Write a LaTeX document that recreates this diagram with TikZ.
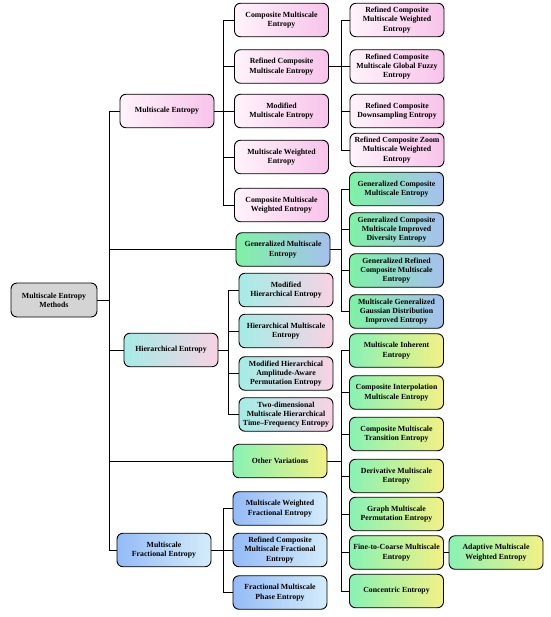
\documentclass[tikz,border=0pt]{standalone}
\usepackage{fontspec}
\setmainfont{Liberation Serif}
\definecolor{pinkL}{HTML}{FFF3FB}
\definecolor{pinkR}{HTML}{F7C3EA}
\definecolor{genL}{HTML}{7EF2A6}
\definecolor{genR}{HTML}{A6C0EE}
\definecolor{hierL}{HTML}{A4ECE6}
\definecolor{hierR}{HTML}{F9D2E4}
\definecolor{othL}{HTML}{88F2B4}
\definecolor{othR}{HTML}{F3F184}
\definecolor{fracL}{HTML}{94BBF7}
\definecolor{fracR}{HTML}{D4ECFA}
\definecolor{rootC}{HTML}{D4D4D4}
\tikzset{
  box/.style={draw=black, line width=0.9pt, rounded corners=6pt, minimum width=94pt,
    minimum height=33.5pt, inner sep=1pt, align=center,
    font=\fontsize{7.8}{9.3}\selectfont\bfseries, text=black},
  pinkbox/.style={box, left color=pinkL, right color=pinkR},
  genbox/.style={box, left color=genL, right color=genR},
  hierbox/.style={box, left color=hierL, right color=hierR},
  othbox/.style={box, left color=othL, right color=othR},
  fracbox/.style={box, left color=fracL, right color=fracR},
  rootbox/.style={box, fill=rootC, minimum width=86pt, minimum height=34pt},
  conn/.style={draw=black, line width=0.8pt}
}
\begin{document}
\begin{tikzpicture}[x=1pt,y=-1pt]
\path[use as bounding box] (0,0) rectangle (550,617);
% root
\node[rootbox] (root) at (54,300) {Multiscale Entropy\\Methods};
% level 1
\node[pinkbox] (ms) at (167,111) {Multiscale Entropy};
\node[genbox] (gms) at (283,249.5) {Generalized Multiscale\\Entropy};
\node[hierbox] (he) at (171,350) {Hierarchical Entropy};
\node[othbox] (ov) at (280,461) {Other Variations};
\node[fracbox] (mfe) at (164,550) {Multiscale\\Fractional Entropy};
% MS children
\node[pinkbox] (cmse) at (281.5,20) {Composite Multiscale\\Entropy};
\node[pinkbox] (rcmse) at (281.5,66.5) {Refined Composite\\Multiscale Entropy};
\node[pinkbox] (mmse) at (281.5,111) {Modified\\Multiscale Entropy};
\node[pinkbox] (mwe) at (281.5,157) {Multiscale Weighted\\Entropy};
\node[pinkbox] (cmwe) at (281.5,205) {Composite Multiscale\\Weighted Entropy};
% RCMSE children
\node[pinkbox] (r1) at (397,20) {Refined Composite\\Multiscale Weighted\\Entropy};
\node[pinkbox] (r2) at (397,66.5) {Refined Composite\\Multiscale Global Fuzzy\\Entropy};
\node[pinkbox] (r3) at (397,111) {Refined Composite\\Downsampling Entropy};
\node[pinkbox] (r4) at (397,150) {Refined Composite Zoom\\Multiscale Weighted\\Entropy};
% GMS children
\node[genbox] (g1) at (396.5,189) {Generalized Composite\\Multiscale Entropy};
\node[genbox] (g2) at (396.5,229.5) {Generalized Composite\\Multiscale Improved\\Diversity Entropy};
\node[genbox] (g3) at (396.5,270.5) {Generalized Refined\\Composite Multiscale\\Entropy};
\node[genbox] (g4) at (396.5,311.5) {Multiscale Generalized\\Gaussian Distribution\\Improved Entropy};
% HE children
\node[hierbox] (h1) at (286,290) {Modified\\Hierarchical Entropy};
\node[hierbox] (h2) at (286,331) {Hierarchical Multiscale\\Entropy};
\node[hierbox] (h3) at (286,373.5) {Modified Hierarchical\\Amplitude-Aware\\Permutation Entropy};
\node[hierbox] (h4) at (286,414.5) {Two-dimensional\\Multiscale Hierarchical\\Time--Frequency Entropy};
% OV children
\node[othbox] (o1) at (396.5,350.5) {Multiscale Inherent\\Entropy};
\node[othbox] (o2) at (396.5,392.5) {Composite Interpolation\\Multiscale Entropy};
\node[othbox] (o3) at (396.5,434) {Composite Multiscale\\Transition Entropy};
\node[othbox] (o4) at (396.5,476) {Derivative Multiscale\\Entropy};
\node[othbox] (o5) at (396.5,514) {Graph Multiscale\\Permutation Entropy};
\node[othbox] (o6) at (396.5,552.5) {Fine-to-Coarse Multiscale\\Entropy};
\node[othbox] (o7) at (396.5,591) {Concentric Entropy};
\node[othbox] (o8) at (496,552.5) {Adaptive Multiscale\\Weighted Entropy};
% MFE children
\node[fracbox] (f1) at (280,508.5) {Multiscale Weighted\\Fractional Entropy};
\node[fracbox] (f2) at (280,550) {Refined Composite\\Multiscale Fractional\\Entropy};
\node[fracbox] (f3) at (280,592.5) {Fractional Multiscale\\Phase Entropy};
% junction coordinates
\coordinate (jroot) at (109,300);
\coordinate (jms) at (223,111);
\coordinate (jrc) at (341,66.5);
\coordinate (jg) at (341,249.5);
\coordinate (jh) at (228,350);
\coordinate (jo) at (341,461);
\coordinate (jf) at (223,550);
% connectors
\draw[conn] (root.east) -- (jroot);
\foreach \c in {ms,gms,he,ov,mfe} \draw[conn] (jroot) |- (\c.west);
\draw[conn] (ms.east) -- (jms);
\foreach \c in {cmse,rcmse,mmse,mwe,cmwe} \draw[conn] (jms) |- (\c.west);
\draw[conn] (rcmse.east) -- (jrc);
\foreach \c in {r1,r2,r3,r4} \draw[conn] (jrc) |- (\c.west);
\draw[conn] (gms.east) -- (jg);
\foreach \c in {g1,g2,g3,g4} \draw[conn] (jg) |- (\c.west);
\draw[conn] (he.east) -- (jh);
\foreach \c in {h1,h2,h3,h4} \draw[conn] (jh) |- (\c.west);
\draw[conn] (ov.east) -- (jo);
\foreach \c in {o1,o2,o3,o4,o5,o6,o7} \draw[conn] (jo) |- (\c.west);
\draw[conn] (mfe.east) -- (jf);
\foreach \c in {f1,f2,f3} \draw[conn] (jf) |- (\c.west);
\draw[conn] (o6.east) -- (o8.west);
\end{tikzpicture}
\end{document}
